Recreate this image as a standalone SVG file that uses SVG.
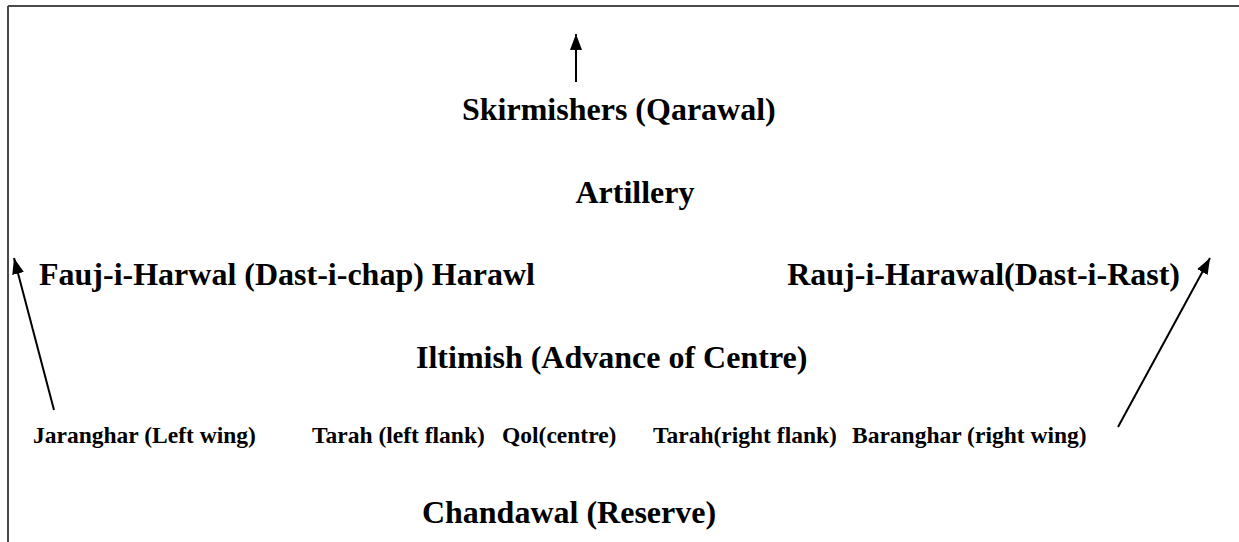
<svg xmlns="http://www.w3.org/2000/svg" width="1239" height="542" viewBox="0 0 1239 542">
  <style>
    .big { font-family: "Liberation Serif", "Times New Roman", serif; font-weight: bold; font-size: 32px; fill: #000; }
    .small { font-family: "Liberation Serif", "Times New Roman", serif; font-weight: bold; font-size: 23.5px; fill: #000; }
    .border { stroke: #4a4a4a; stroke-width: 2; fill: none; }
    .conn { stroke: #000; stroke-width: 2; fill: none; }
  </style>
  <defs>
    <marker id="ah" viewBox="0 0 16 12" refX="16" refY="6" markerWidth="16" markerHeight="12" markerUnits="userSpaceOnUse" orient="auto">
      <path d="M0,0 L16,6 L0,12 z" fill="#000"/>
    </marker>
  </defs>
  <rect width="1239" height="542" fill="#fff"/>
  <g id="frame">
    <line class="border" x1="8" y1="6" x2="1239" y2="6"/>
    <line class="border" x1="8" y1="6" x2="8" y2="542"/>
  </g>
  <g id="connectors">
    <line class="conn" x1="576" y1="82" x2="576" y2="34" marker-end="url(#ah)" stroke="#333" stroke-width="2.5"/>
    <line class="conn" x1="54" y1="410" x2="14" y2="258" marker-end="url(#ah)"/>
    <line class="conn" x1="1118" y1="427" x2="1210" y2="258" marker-end="url(#ah)"/>
  </g>
  <g id="skirmishers"><text class="big" x="462" y="120">Skirmishers (Qarawal)</text></g>
  <g id="artillery"><text class="big" x="635" y="203" text-anchor="middle">Artillery</text></g>
  <g id="fauj"><text class="big" x="39" y="285">Fauj-i-Harwal (Dast-i-chap) Harawl</text></g>
  <g id="rauj"><text class="big" x="1180" y="285" text-anchor="end">Rauj-i-Harawal(Dast-i-Rast)</text></g>
  <g id="iltimish"><text class="big" x="416" y="368">Iltimish (Advance of Centre)</text></g>
  <g id="jaranghar"><text class="small" x="33" y="443">Jaranghar (Left wing)</text></g>
  <g id="tarah-left"><text class="small" x="312" y="443">Tarah (left flank)</text></g>
  <g id="qol"><text class="small" x="502" y="443">Qol(centre)</text></g>
  <g id="tarah-right"><text class="small" x="653" y="443">Tarah(right flank)</text></g>
  <g id="baranghar"><text class="small" x="852" y="443">Baranghar (right wing)</text></g>
  <g id="chandawal"><text class="big" x="569" y="523" text-anchor="middle">Chandawal (Reserve)</text></g>
</svg>
